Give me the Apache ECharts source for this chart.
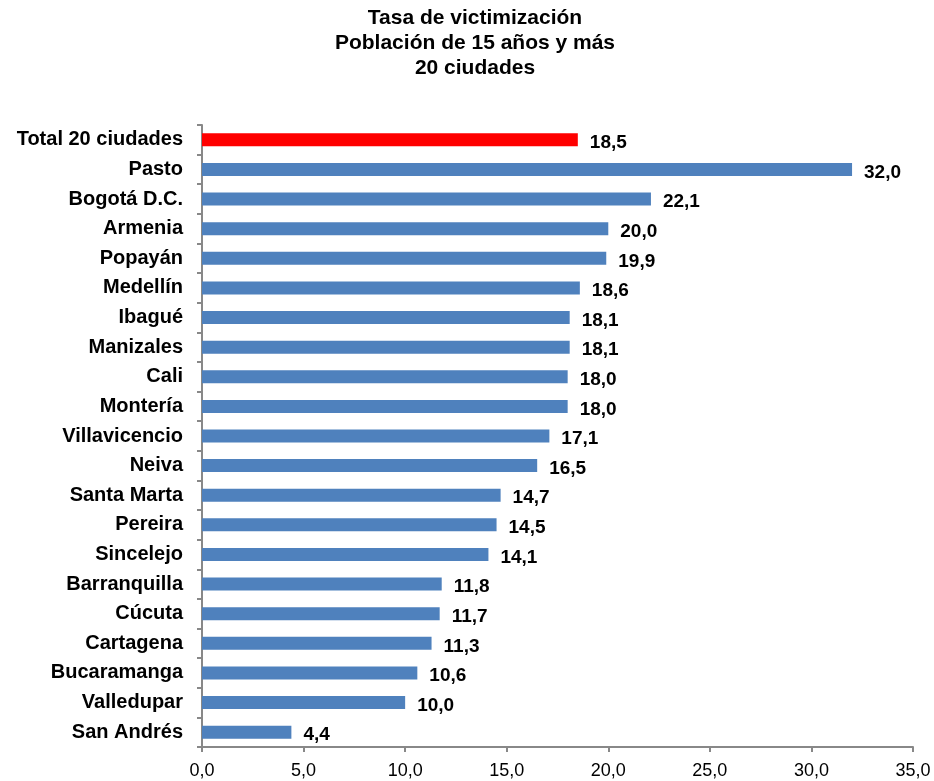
<!DOCTYPE html>
<html>
<head>
<meta charset="utf-8">
<script src="https://cdn.jsdelivr.net/npm/echarts@6/dist/echarts.min.js"></script>
<style>html,body{margin:0;padding:0;background:#fff}#c{width:934px;height:781px}</style>
</head>
<body>
<div id="c"></div>
<script>
const categories = ["Total 20 ciudades","Pasto","Bogotá D.C.","Armenia","Popayán","Medellín","Ibagué","Manizales","Cali","Montería","Villavicencio","Neiva","Santa Marta","Pereira","Sincelejo","Barranquilla","Cúcuta","Cartagena","Bucaramanga","Valledupar","San Andrés"];
const values = [18.5,32.0,22.1,20.0,19.9,18.6,18.1,18.1,18.0,18.0,17.1,16.5,14.7,14.5,14.1,11.8,11.7,11.3,10.6,10.0,4.4];
const xTicks = [0,5,10,15,20,25,30,35];
const fmt = v => v.toFixed(1).replace('.', ',');
const FF = 'Liberation Sans, Arial, sans-serif';

const chart = echarts.init(document.getElementById('c'));
chart.setOption({
  animation: false,
  textStyle: {fontFamily: FF},
  title: {
    text: 'Tasa de victimización\nPoblación de 15 años y más\n20 ciudades',
    left: 475, top: 6, padding: 0, textAlign: 'center',
    textStyle: {fontSize: 21, fontWeight: 'bold', color: '#000', lineHeight: 25, fontFamily: FF}
  },
  grid: {left: 202, right: 21, top: 125, bottom: 34, containLabel: false},
  xAxis: {
    type: 'value', min: xTicks[0], max: xTicks[xTicks.length-1], interval: 5,
    splitLine: {show: false},
    axisLine: {show: true, lineStyle: {color: '#888', width: 2}},
    axisTick: {show: true, length: 5, lineStyle: {color: '#888', width: 2}},
    axisLabel: {formatter: v => fmt(v), fontSize: 18, color: '#000', margin: 15}
  },
  yAxis: {
    type: 'category', data: categories, inverse: true,
    axisLine: {show: true, lineStyle: {color: '#888', width: 2}},
    axisTick: {show: true, length: 5, lineStyle: {color: '#888', width: 2}},
    axisLabel: {fontSize: 20, fontWeight: 'bold', color: '#000', margin: 19}
  },
  series: [{
    type: 'bar',
    data: values.map((v, i) => ({value: v, itemStyle: {color: i === 0 ? '#FF0000' : '#4F81BD'}})),
    barWidth: 13,
    label: {
      show: true, position: 'right', distance: 12, offset: [0, 3],
      formatter: p => fmt(p.value), fontSize: 19, fontWeight: 'bold', color: '#000'
    }
  }]
});
</script>
</body>
</html>
